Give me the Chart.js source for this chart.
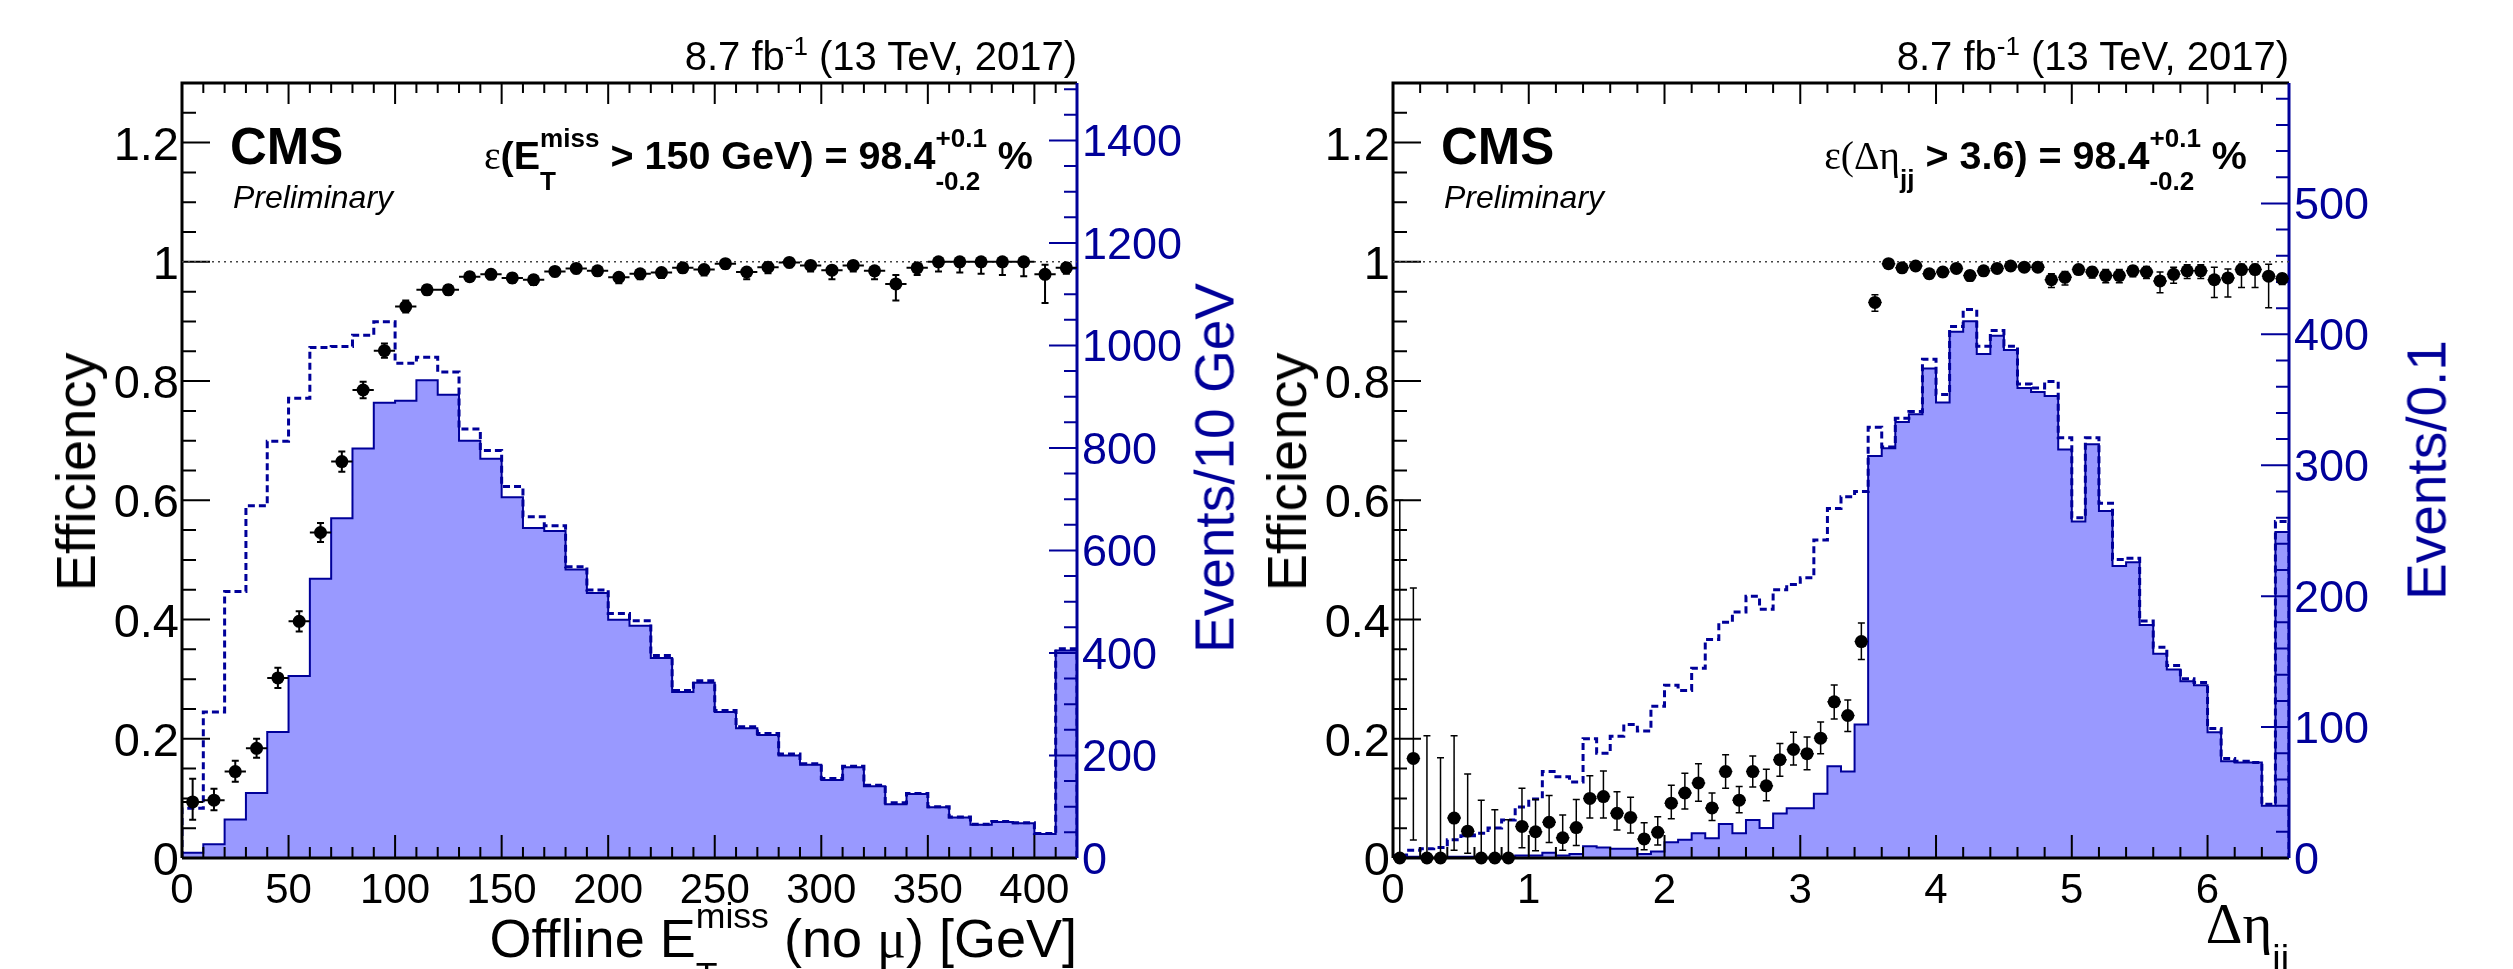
<!DOCTYPE html>
<html>
<head>
<meta charset="utf-8">
<script src="https://cdn.jsdelivr.net/npm/chart.js@4"></script>
<style>
html, body { margin: 0; padding: 0; background: #fff; }
body { width: 2513px; height: 969px; position: relative; overflow: hidden;
       font-family: "Liberation Sans", Arial, Helvetica, sans-serif; }
canvas { position: absolute; top: 0; }
.txt { position: absolute; white-space: nowrap; line-height: 1; color: #000; }
.st { position: relative; display: inline-block; font-size: 0.66em; line-height: 1; }
.st .u { position: relative; top: -0.82em; }
.st .d { position: absolute; left: 0; top: 0.84em; }
.sp { position: relative; font-size: 0.65em; top: -0.6em; }
.sb { position: relative; font-size: 0.66em; top: 0.75em; }
.gr { font-family: "Liberation Serif", "DejaVu Serif", serif; font-weight: normal; }
</style>
</head>
<body>
<canvas id="met" width="1256" height="969" style="left:0"></canvas>
<canvas id="deta" width="1257" height="969" style="left:1256px"></canvas>
<script>
// ---- left panel: offline MET (no mu), 10 GeV bins, last bin = overflow ----
const metEdges = [0, 10, 20, 30, 40, 50, 60, 70, 80, 90, 100, 110, 120, 130, 140, 150, 160, 170, 180, 190,
    200, 210, 220, 230, 240, 250, 260, 270, 280, 290, 300, 310, 320, 330, 340, 350, 360, 370, 380, 390, 400, 410];
const metBinWidth = 10;
const metRange = [0, 420];
// dashed: all events
const metAll = [97, 285, 520, 687, 813, 897, 996, 998, 1020, 1046, 965, 977, 948, 837, 795, 725, 666, 648, 568, 523,
    477, 463, 395, 327, 346, 288, 256, 243, 203, 184, 155, 179, 142, 108, 126, 100, 80, 66, 71, 69, 48, 408];
// filled: events passing the trigger
const metPass = [10, 27, 75, 127, 246, 355, 545, 663, 799, 888, 892, 932, 904, 814, 779, 704, 644, 638, 563, 517,
    465, 453, 390, 324, 342, 285, 253, 240, 200, 182, 152, 177, 140, 105, 125, 99, 79, 65, 70, 68, 47, 405];
const metEff = [0.094, 0.097, 0.145, 0.184, 0.302, 0.397, 0.546, 0.665, 0.785, 0.851, 0.925, 0.953, 0.953, 0.975,
    0.979, 0.973, 0.970, 0.984, 0.989, 0.985, 0.974, 0.980, 0.982, 0.990, 0.987, 0.997, 0.983, 0.991, 0.999, 0.994,
    0.986, 0.994, 0.985, 0.963, 0.990, 1.0, 1.0, 1.0, 1.0, 1.0, 0.979, 0.990];
const metErrUp = [0.039, 0.019, 0.018, 0.016, 0.017, 0.017, 0.016, 0.017, 0.014, 0.012, 0.010, 0.008, 0.008, 0.007,
    0.007, 0.007, 0.007, 0.006, 0.006, 0.006, 0.007, 0.006, 0.006, 0.005, 0.006, 0.003, 0.006, 0.005, 0.001, 0.004,
    0.006, 0.004, 0.006, 0.015, 0.006, 0, 0, 0, 0, 0, 0.016, 0.008];
const metErrDn = [0.030, 0.017, 0.017, 0.016, 0.017, 0.017, 0.016, 0.017, 0.014, 0.012, 0.010, 0.008, 0.008, 0.007,
    0.008, 0.008, 0.009, 0.008, 0.008, 0.008, 0.010, 0.009, 0.009, 0.008, 0.010, 0.008, 0.012, 0.010, 0.008, 0.010,
    0.015, 0.010, 0.014, 0.028, 0.012, 0.016, 0.018, 0.020, 0.022, 0.024, 0.048, 0.010];
const metTicks = [0, 50, 100, 150, 200, 250, 300, 350, 400];
const metEventTicks = [0, 200, 400, 600, 800, 1000, 1200, 1400];
const metEventMax = 1512;

// ---- right panel: delta eta jj, 0.1 bins ----
const detaEdges = [0, 0.1, 0.2, 0.3, 0.4, 0.5, 0.6, 0.7, 0.8, 0.9, 1, 1.1, 1.2, 1.3, 1.4, 1.5, 1.6, 1.7, 1.8, 1.9,
    2, 2.1, 2.2, 2.3, 2.4, 2.5, 2.6, 2.7, 2.8, 2.9, 3, 3.1, 3.2, 3.3, 3.4, 3.5, 3.6, 3.7, 3.8, 3.9,
    4, 4.1, 4.2, 4.3, 4.4, 4.5, 4.6, 4.7, 4.8, 4.9, 5, 5.1, 5.2, 5.3, 5.4, 5.5, 5.6, 5.7, 5.8, 5.9,
    6, 6.1, 6.2, 6.3, 6.4, 6.5];
const detaBinWidth = 0.1;
const detaRange = [0, 6.6];
const detaAll = [2, 6, 7, 8, 14, 17, 19, 23, 29, 39, 45, 66, 62, 58, 91, 80, 93, 102, 97, 116,
    132, 128, 145, 167, 180, 188, 200, 190, 205, 209, 214, 243, 267, 276, 280, 329, 314, 336, 341, 381,
    354, 406, 419, 391, 403, 391, 362, 359, 364, 321, 260, 321, 271, 228, 229, 181, 161, 147, 137, 134,
    99, 76, 74, 73, 41, 257];
const detaPass = [0, 1, 0, 0, 1, 1, 0, 0, 0, 2, 2, 4, 2, 3, 9, 8, 7, 7, 3, 5,
    12, 14, 19, 15, 26, 19, 29, 23, 34, 38, 38, 49, 70, 66, 102, 307, 313, 333, 339, 374,
    348, 402, 410, 385, 399, 388, 359, 356, 353, 312, 257, 316, 265, 223, 226, 178, 156, 144, 135, 132,
    96, 74, 73, 73, 40, 249];
const detaEff = [0, 0.167, 0, 0, 0.067, 0.045, 0, 0, 0, 0.053, 0.044, 0.060, 0.034, 0.051, 0.100, 0.103, 0.075,
    0.068, 0.032, 0.043, 0.092, 0.109, 0.126, 0.084, 0.145, 0.097, 0.145, 0.121, 0.165, 0.182, 0.175, 0.201,
    0.262, 0.239, 0.363, 0.932, 0.997, 0.990, 0.993, 0.980, 0.983, 0.989, 0.977, 0.985, 0.989, 0.993, 0.991,
    0.991, 0.970, 0.974, 0.987, 0.983, 0.977, 0.977, 0.985, 0.983, 0.968, 0.979, 0.985, 0.985, 0.970, 0.973,
    0.987, 0.987, 0.976, 0.972];
const detaErrUp = [0.60, 0.286, 0.205, 0.168, 0.138, 0.096, 0.097, 0.081, 0.064, 0.064, 0.054, 0.045, 0.038,
    0.047, 0.038, 0.043, 0.036, 0.034, 0.027, 0.026, 0.030, 0.033, 0.032, 0.025, 0.028, 0.023, 0.026, 0.028,
    0.027, 0.029, 0.028, 0.027, 0.028, 0.026, 0.031, 0.013, 0.003, 0.006, 0.005, 0.007, 0.007, 0.006, 0.008,
    0.007, 0.006, 0.005, 0.006, 0.006, 0.010, 0.010, 0.007, 0.008, 0.010, 0.010, 0.008, 0.009, 0.015, 0.012,
    0.010, 0.010, 0.021, 0.015, 0.009, 0.009, 0.020, 0.008];
const detaErrDn = [0, 0.137, 0, 0, 0.054, 0.037, 0, 0, 0, 0.036, 0.032, 0.034, 0.021, 0.030, 0.033, 0.036, 0.028,
    0.026, 0.018, 0.021, 0.026, 0.027, 0.031, 0.021, 0.028, 0.021, 0.026, 0.025, 0.028, 0.026, 0.027, 0.026,
    0.029, 0.027, 0.030, 0.015, 0.004, 0.007, 0.006, 0.008, 0.008, 0.007, 0.009, 0.008, 0.007, 0.006, 0.007,
    0.007, 0.013, 0.013, 0.008, 0.010, 0.012, 0.012, 0.010, 0.011, 0.020, 0.015, 0.013, 0.013, 0.030, 0.032,
    0.030, 0.030, 0.053, 0.010];
const detaTicks = [0, 1, 2, 3, 4, 5, 6];
const detaEventTicks = [0, 100, 200, 300, 400, 500];
const detaEventMax = 592;

// shared efficiency axis
const effMax = 1.3;
const effTicks = [0, 0.2, 0.4, 0.6, 0.8, 1, 1.2];
const effTickLabels = ['0', '0.2', '0.4', '0.6', '0.8', '1', '1.2'];

const BLUE = '#000099';
const FILL = '#9999ff';
const SANS = '"Liberation Sans", Arial, Helvetica, sans-serif';

// histogram outline as step points: up from 0 at the first edge, down to 0 after the last bin
const stepPoints = (edges, width, counts) => {
    const pts = [{ x: edges[0], y: 0 }];
    counts.forEach((c, i) => pts.push({ x: edges[i], y: c }));
    const end = edges[edges.length - 1] + width;
    pts.push({ x: end, y: counts[counts.length - 1] });
    pts.push({ x: end, y: 0 });
    return pts;
};

const tickValues = (min, max, step) => {
    const n = Math.floor((max - min) / step + 1e-6);
    const out = [];
    for (let i = 0; i <= n; i++) out.push(min + i * step);
    return out;
};
const isMajor = (v, major) => Math.abs(v / major - Math.round(v / major)) < 1e-6;

// ROOT style frame: ticks inside on all four sides, labels outside
function drawFrame(chart, cfg) {
    const { ctx, chartArea: a } = chart;
    const xs = chart.scales.x, ye = chart.scales.eff, yv = chart.scales.ev;
    ctx.save();
    ctx.lineWidth = 2;
    ctx.strokeStyle = '#000';
    ctx.beginPath();
    tickValues(xs.min, xs.max, cfg.xMinor).forEach(v => {
        const p = xs.getPixelForValue(v);
        const big = isMajor(v, cfg.xMajor);
        ctx.moveTo(p, a.bottom); ctx.lineTo(p, a.bottom - (big ? 23 : 11));
        ctx.moveTo(p, a.top); ctx.lineTo(p, a.top + (big ? 21 : 10));
    });
    tickValues(0, effMax, 0.05).forEach(v => {
        const p = ye.getPixelForValue(v);
        ctx.moveTo(a.left, p); ctx.lineTo(a.left + (isMajor(v, 0.2) ? 28 : 14), p);
    });
    ctx.stroke();

    ctx.strokeStyle = BLUE;
    ctx.beginPath();
    tickValues(0, yv.max, cfg.evMinor).forEach(v => {
        const p = yv.getPixelForValue(v);
        ctx.moveTo(a.right, p); ctx.lineTo(a.right - (isMajor(v, cfg.evMajor) ? 28 : 13), p);
    });
    ctx.stroke();

    ctx.lineWidth = 3;
    ctx.strokeStyle = '#000';
    ctx.beginPath();
    ctx.moveTo(a.left, a.bottom); ctx.lineTo(a.left, a.top); ctx.lineTo(a.right, a.top);
    ctx.moveTo(a.left, a.bottom); ctx.lineTo(a.right, a.bottom);
    ctx.stroke();
    ctx.strokeStyle = BLUE;
    ctx.beginPath();
    ctx.moveTo(a.right, a.top); ctx.lineTo(a.right, a.bottom);
    ctx.stroke();

    ctx.fillStyle = '#000';
    ctx.textBaseline = 'alphabetic';
    ctx.font = '42px ' + SANS;
    ctx.textAlign = 'center';
    cfg.xTicks.forEach(v => ctx.fillText(String(v), xs.getPixelForValue(v), a.bottom + 45));
    ctx.font = '47px ' + SANS;
    ctx.textAlign = 'right';
    effTicks.forEach((v, i) => ctx.fillText(effTickLabels[i], a.left - 3, ye.getPixelForValue(v) + 17));
    ctx.fillStyle = BLUE;
    ctx.font = '45px ' + SANS;
    ctx.textAlign = 'left';
    cfg.evTicks.forEach(v => ctx.fillText(String(v), a.right + 5, yv.getPixelForValue(v) + 16));
    ctx.restore();
}

function drawErrors(chart, cfg, centers) {
    const { ctx } = chart;
    const xs = chart.scales.x, ye = chart.scales.eff;
    const half = cfg.width / 2;
    ctx.save();
    ctx.strokeStyle = '#000';
    ctx.lineWidth = cfg.errWidth;
    ctx.beginPath();
    centers.forEach((c, i) => {
        const px = xs.getPixelForValue(c);
        const py = ye.getPixelForValue(cfg.eff[i]);
        ctx.moveTo(xs.getPixelForValue(c - half), py);
        ctx.lineTo(xs.getPixelForValue(c + half), py);
        const up = ye.getPixelForValue(cfg.eff[i] + cfg.errUp[i]);
        const dn = ye.getPixelForValue(cfg.eff[i] - cfg.errDn[i]);
        ctx.moveTo(px, up); ctx.lineTo(px, dn);
        if (cfg.errUp[i] > 0) { ctx.moveTo(px - 3.5, up); ctx.lineTo(px + 3.5, up); }
        if (cfg.errDn[i] > 0) { ctx.moveTo(px - 3.5, dn); ctx.lineTo(px + 3.5, dn); }
    });
    ctx.stroke();
    ctx.restore();
}

function makeChart(id, cfg) {
    const centers = cfg.edges.map(e => e + cfg.width / 2);
    return new Chart(document.getElementById(id), {
        type: 'line',
        data: {
            datasets: [
                {
                    label: 'efficiency',
                    data: centers.map((c, i) => ({ x: c, y: cfg.eff[i] })),
                    yAxisID: 'eff', showLine: false, clip: false,
                    pointRadius: 6.5, pointHoverRadius: 6.5,
                    pointBackgroundColor: '#000', pointBorderWidth: 0,
                    order: 0
                },
                {
                    label: 'unity',
                    data: [{ x: cfg.range[0], y: 1 }, { x: cfg.range[1], y: 1 }],
                    yAxisID: 'eff', borderColor: '#444', borderWidth: 1.5, borderDash: [2, 4],
                    pointRadius: 0, fill: false, order: 1
                },
                {
                    label: 'all',
                    data: stepPoints(cfg.edges, cfg.width, cfg.all),
                    yAxisID: 'ev', stepped: true, borderColor: BLUE, borderWidth: 3, borderDash: [7, 4],
                    pointRadius: 0, fill: false, order: 2
                },
                {
                    label: 'pass',
                    data: stepPoints(cfg.edges, cfg.width, cfg.pass),
                    yAxisID: 'ev', stepped: true, borderColor: BLUE, borderWidth: 2,
                    backgroundColor: FILL, fill: 'origin', pointRadius: 0, order: 3
                }
            ]
        },
        options: {
            responsive: false,
            animation: false,
            events: [],
            layout: { padding: cfg.padding },
            plugins: { legend: { display: false }, tooltip: { enabled: false } },
            scales: {
                x: { type: 'linear', display: false, min: cfg.range[0], max: cfg.range[1] },
                eff: { type: 'linear', display: false, position: 'left', min: 0, max: effMax },
                ev: { type: 'linear', display: false, position: 'right', min: 0, max: cfg.evMax }
            }
        },
        plugins: [{
            id: 'rootFrame',
            afterDatasetDraw(chart, args) { if (args.index === 2) drawFrame(chart, cfg); },
            afterDatasetsDraw(chart) { drawErrors(chart, cfg, centers); }
        }]
    });
}

makeChart('met', {
    edges: metEdges, width: metBinWidth, range: metRange,
    all: metAll, pass: metPass, eff: metEff, errUp: metErrUp, errDn: metErrDn,
    evMax: metEventMax, evTicks: metEventTicks, evMajor: 200, evMinor: 50,
    xTicks: metTicks, xMajor: 50, xMinor: 10, errWidth: 2,
    padding: { left: 182, right: 179, top: 83, bottom: 111 }
});
makeChart('deta', {
    edges: detaEdges, width: detaBinWidth, range: detaRange,
    all: detaAll, pass: detaPass, eff: detaEff, errUp: detaErrUp, errDn: detaErrDn,
    evMax: detaEventMax, evTicks: detaEventTicks, evMajor: 100, evMinor: 20,
    xTicks: detaTicks, xMajor: 1, xMinor: 0.2, errWidth: 1.5,
    padding: { left: 137, right: 224, top: 83, bottom: 111 }
});

// text annotations (x, y = baseline anchor; rotated ones: x = baseline, y = centre)
const miss = '<span class="st"><span class="u">miss</span><span class="d">T</span></span>';
const eff984 = '98.4<span class="st"><span class="u">+0.1</span><span class="d">-0.2</span></span> %';
const lumi = '8.7 fb<span class="sp">-1</span> (13 TeV, 2017)';
const texts = [
    { html: lumi, x: 1077, y: 70, size: 40, align: 'right' },
    { html: 'CMS', x: 230, y: 164, size: 51, weight: 'bold' },
    { html: 'Preliminary', x: 233, y: 208, size: 32, italic: true },
    { html: '<span class="gr">ε</span>(E' + miss + ' &gt; 150 GeV) = ' + eff984, x: 1033, y: 169, size: 39.5, weight: 'bold', align: 'right' },
    { html: 'Efficiency', x: 95, y: 472, size: 56, rotate: true },
    { html: 'Events/10 GeV', x: 1234, y: 468, size: 55, rotate: true, color: BLUE },
    { html: 'Offline E' + miss + ' (no <span class="gr">μ</span>) [GeV]', x: 1077, y: 957, size: 54, align: 'right' },

    { html: lumi, x: 2289, y: 70, size: 40, align: 'right' },
    { html: 'CMS', x: 1441, y: 164, size: 51, weight: 'bold' },
    { html: 'Preliminary', x: 1444, y: 208, size: 32, italic: true },
    { html: '<span class="gr">ε(Δη</span><span class="sb">jj</span> &gt; 3.6) = ' + eff984, x: 2247, y: 169, size: 39.5, weight: 'bold', align: 'right' },
    { html: 'Efficiency', x: 1306, y: 472, size: 56, rotate: true },
    { html: 'Events/0.1', x: 2446, y: 470, size: 55, rotate: true, color: BLUE },
    { html: '<span class="gr">Δη</span><span class="sb">jj</span>', x: 2289, y: 943, size: 57, align: 'right' }
];

texts.forEach(t => {
    const d = document.createElement('div');
    d.className = 'txt';
    d.innerHTML = t.html;
    d.style.fontSize = t.size + 'px';
    if (t.weight) d.style.fontWeight = t.weight;
    if (t.italic) d.style.fontStyle = 'italic';
    if (t.color) d.style.color = t.color;
    if (t.rotate) {
        d.style.left = (t.x - 0.346 * t.size) + 'px';
        d.style.top = t.y + 'px';
        d.style.transform = 'translate(-50%, -50%) rotate(-90deg)';
    } else {
        d.style.left = t.x + 'px';
        d.style.top = (t.y - 0.846 * t.size) + 'px';
        if (t.align === 'right') d.style.transform = 'translateX(-100%)';
    }
    document.body.appendChild(d);
});
</script>
</body>
</html>
